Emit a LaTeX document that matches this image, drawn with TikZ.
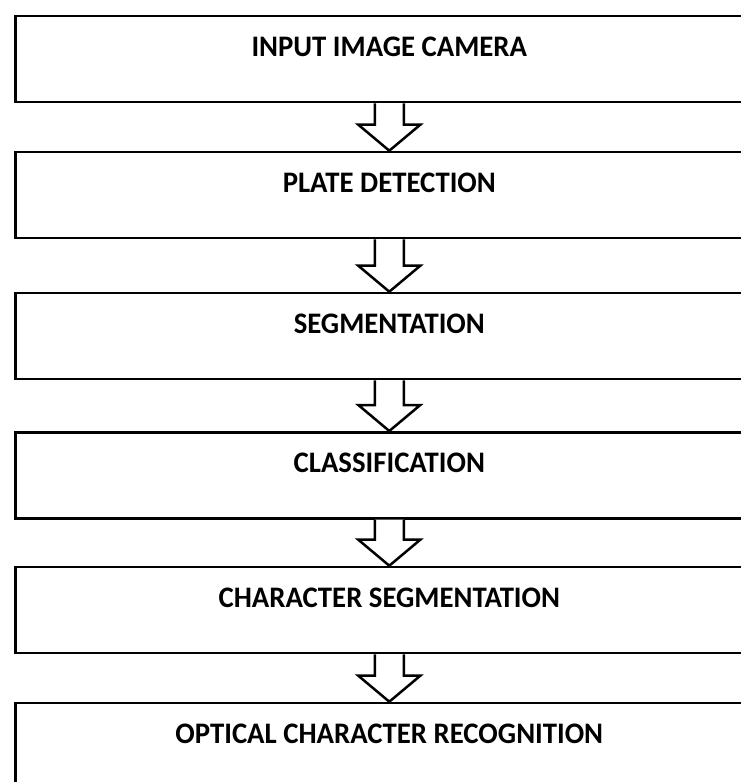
\documentclass[tikz,border=0pt]{standalone}
\usepackage{fontspec}
\setmainfont{Carlito}
\usetikzlibrary{calc}
\tikzset{
  stagebox/.style={draw=black, line width=2.6pt, minimum width=748pt, minimum height=86pt, anchor=north west, inner sep=0pt},
  stagelabel/.style={anchor=base, inner sep=0pt, xscale=0.965, font=\bfseries\fontsize{29.8}{35}\selectfont},
  blockarrow/.style={draw=black, line width=2.5pt, fill=white, line join=miter},
}
\begin{document}
\begin{tikzpicture}[x=1pt,y=1pt]
\useasboundingbox (0,0) rectangle (741,-782);
\clip (0,0) rectangle (741,-782);
\node[stagebox] (b1) at (14,-14.7) {};
\node[stagebox] (b2) at (14,-150.7) {};
\node[stagebox] (b3) at (14,-291.7) {};
\node[stagebox] (b4) at (14,-431) {};
\node[stagebox] (b5) at (14,-565.7) {};
\node[stagebox] (b6) at (14,-701.7) {};
\node[stagelabel] (t1) at ($(b1.north)+(0,-41.8)$) {INPUT IMAGE CAMERA};
\node[stagelabel] (t2) at ($(b2.north)+(0,-41.8)$) {PLATE DETECTION};
\node[stagelabel] (t3) at ($(b3.north)+(0,-41.8)$) {SEGMENTATION};
\node[stagelabel] (t4) at ($(b4.north)+(0,-41.8)$) {CLASSIFICATION};
\node[stagelabel] (t5) at ($(b5.north)+(0,-41.8)$) {CHARACTER SEGMENTATION};
\node[stagelabel] (t6) at ($(b6.north)+(0,-41.8)$) {OPTICAL CHARACTER RECOGNITION};
\foreach \a/\b in {b1/b2,b2/b3,b3/b4,b4/b5,b5/b6}{
  \draw[blockarrow] ($(\a.south)+(-14.5,0)$) -- ($(\b.north)+(-14.5,26)$) -- ($(\b.north)+(-31,26)$) -- (\b.north)
    -- ($(\b.north)+(31,26)$) -- ($(\b.north)+(14.5,26)$) -- ($(\a.south)+(14.5,0)$);
}
\end{tikzpicture}
\end{document}
